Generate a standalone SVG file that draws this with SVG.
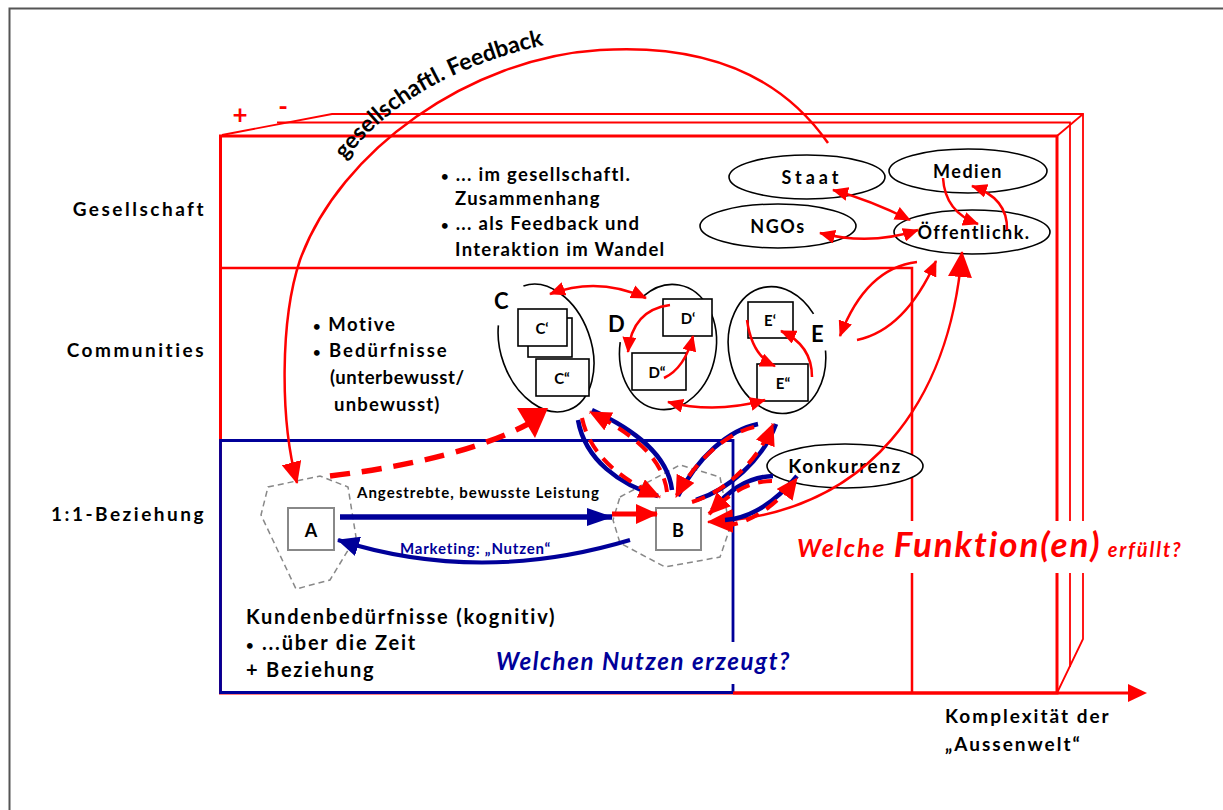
<svg xmlns="http://www.w3.org/2000/svg" width="1223" height="810" viewBox="0 0 1223 810">
  <style>
    text { font-family: Lato, "Open Sans", "Liberation Sans", sans-serif; font-weight: bold; fill: #000; }
    .row { font-size: 19px; text-anchor: end; letter-spacing: 2.5px; }
    .body { font-size: 18.5px; letter-spacing: 1.3px; }
    .bul { font-size: 13px; }
    .node { font-size: 18px; text-anchor: middle; letter-spacing: 1.5px; }
    .grp { font-size: 22px; }
    .sub { font-size: 15px; text-anchor: middle; }
    .ell { fill: #fff; stroke: #000; stroke-width: 1.6; }
    .ring { fill: none; stroke: #000; stroke-width: 1.6; }
    .box { fill: #fff; stroke: #000; stroke-width: 1.6; }
    .gbox { fill: #fff; stroke: #888; stroke-width: 2; }
    .poly { fill: none; stroke: #888; stroke-width: 1.5; stroke-dasharray: 6 4; }
    .thin { fill: none; stroke: #f00; stroke-width: 2.5; }
    .frame { fill: none; stroke: #f00; }
    .blue { fill: none; stroke: #000099; stroke-width: 4.5; }
    .rdash { fill: none; stroke: #f00; stroke-width: 4; stroke-dasharray: 14 9; }
  </style>
  <defs>
    <marker id="rh" markerUnits="userSpaceOnUse" viewBox="0 0 16 14" markerWidth="16" markerHeight="14" refX="15" refY="7" orient="auto-start-reverse">
      <path d="M0,0 L16,7 L0,14 z" fill="#f00"/>
    </marker>
    <marker id="rhm" markerUnits="userSpaceOnUse" viewBox="0 0 22 20" markerWidth="22" markerHeight="20" refX="21" refY="10" orient="auto-start-reverse">
      <path d="M0,0 L22,10 L0,20 z" fill="#f00"/>
    </marker>
    <marker id="rhb" markerUnits="userSpaceOnUse" viewBox="0 0 26 24" markerWidth="26" markerHeight="24" refX="25" refY="12" orient="auto-start-reverse">
      <path d="M0,0 L26,12 L0,24 z" fill="#f00"/>
    </marker>
    <marker id="bh" markerUnits="userSpaceOnUse" viewBox="0 0 26 18" markerWidth="26" markerHeight="18" refX="25" refY="9" orient="auto">
      <path d="M0,0 L26,9 L0,18 z" fill="#000099"/>
    </marker>
    <marker id="bhs" markerUnits="userSpaceOnUse" viewBox="0 0 22 20" markerWidth="22" markerHeight="20" refX="21" refY="10" orient="auto">
      <path d="M0,0 L22,10 L0,20 z" fill="#000099"/>
    </marker>
    <path id="fbText" d="M 345,160 Q 412,72 558,42"/>
  </defs>

  <rect width="1223" height="810" fill="#fff"/>
  <!-- page frame -->
  <path d="M 9.5,810 L 9.5,8.5 L 1223,8.5" fill="none" stroke="#555" stroke-width="2"/>

  <!-- nested layers: Gesellschaft / Communities / 1:1 -->
  <g id="layers">
    <path class="frame" stroke-width="1.8" d="M 222,135 L 332,114 L 1083,114 L 1083,639 L 1057,693"/>
    <path class="frame" stroke-width="1.8" d="M 277,122.5 L 1070,122.5 L 1070,667"/>
    <path class="frame" stroke-width="1.8" d="M 1057,136 L 1083,114"/>
    <rect class="frame" stroke-width="3" x="220.5" y="136" width="836.5" height="557"/>
    <path class="frame" stroke-width="2.5" d="M 220,268 L 912,268 L 912,693"/>
    <path fill="none" stroke="#000099" stroke-width="2.8" d="M 220.5,692.5 L 220.5,440.5 L 733,440.5 L 733,692.5 Z"/>
    <!-- axis -->
    <path d="M 733,693 L 1130,693" stroke="#f00" stroke-width="3" fill="none"/>
    <path d="M 1128,684 L 1147,693 L 1128,702 z" fill="#f00"/>
    <!-- cut-outs behind the two questions -->
    <rect x="790" y="521" width="400" height="52" fill="#fff"/>
    <rect x="490" y="642" width="322" height="42" fill="#fff"/>
  </g>

  <text x="240" y="124" style="font-size:26px;fill:#f00;text-anchor:middle">+</text>
  <text x="283" y="116" style="font-size:26px;fill:#f00;text-anchor:middle">-</text>

  <!-- row labels -->
  <text class="row" x="206" y="216">Gesellschaft</text>
  <text class="row" x="206" y="357">Communities</text>
  <text class="row" x="206" y="521">1:1-Beziehung</text>

  <!-- Gesellschaft texts -->
  <text class="body" x="441" y="181"><tspan class="bul">•</tspan> ... im gesellschaftl.</text>
  <text class="body" x="455" y="205">Zusammenhang</text>
  <text class="body" x="441" y="230"><tspan class="bul">•</tspan> ... als Feedback und</text>
  <text class="body" x="455" y="256">Interaktion im Wandel</text>

  <!-- Communities texts -->
  <text class="body" x="313" y="331" style="letter-spacing:1.6px"><tspan class="bul">•</tspan> Motive</text>
  <text class="body" x="313" y="357" style="letter-spacing:2px"><tspan class="bul">•</tspan> Bedürfnisse</text>
  <text class="body" x="330" y="384" style="letter-spacing:0.6px">(unterbewusst/</text>
  <text class="body" x="334" y="411" style="letter-spacing:1.2px">unbewusst)</text>

  <!-- 1:1 texts -->
  <text class="body" x="246" y="624" style="font-size:20px;letter-spacing:1.8px">Kundenbedürfnisse (kognitiv)</text>
  <text class="body" x="246" y="650" style="font-size:20px;letter-spacing:1.8px"><tspan class="bul">•</tspan> ...über die Zeit</text>
  <text class="body" x="246" y="677" style="font-size:20px;letter-spacing:1.8px">+ Beziehung</text>

  <text x="945" y="723" style="font-size:19px;letter-spacing:2px">Komplexität der</text>
  <text x="945" y="751" style="font-size:19px;letter-spacing:2px">„Aussenwelt“</text>

  <!-- questions -->
  <text x="496" y="670" style="font-size:24px;font-style:italic;fill:#000099;letter-spacing:1.6px">Welchen Nutzen erzeugt?</text>
  <text x="797" y="557" style="font-style:italic;fill:#f00;letter-spacing:1.9px"><tspan style="font-size:25px">Welche </tspan><tspan style="font-size:35px">Funktion(en)</tspan><tspan style="font-size:20px"> erfüllt?</tspan></text>

  <!-- society nodes -->
  <g id="staat"><ellipse class="ell" cx="807" cy="177" rx="78" ry="22"/><text class="node" x="812" y="184" style="letter-spacing:4px">Staat</text></g>
  <g id="medien"><ellipse class="ell" cx="968" cy="171" rx="79" ry="22"/><text class="node" x="968" y="178">Medien</text></g>
  <g id="ngos"><ellipse class="ell" cx="778" cy="226" rx="78" ry="22"/><text class="node" x="778" y="233">NGOs</text></g>
  <g id="oeffentlichkeit"><ellipse class="ell" cx="972" cy="232" rx="78" ry="22"/><text class="node" x="974" y="239">Öffentlichk.</text></g>
  <g id="konkurrenz"><ellipse class="ell" cx="845" cy="466" rx="78" ry="22"/><text class="node" x="845" y="473" style="font-size:19px">Konkurrenz</text></g>

  <!-- communities C, D, E -->
  <g id="community-c">
    <ellipse class="ring" cx="546" cy="348" rx="45" ry="66" transform="rotate(-20 546 348)" pathLength="100" stroke-dasharray="61 14 25"/>
    <text class="grp" x="494" y="309">C</text>
    <rect class="box" x="528" y="318" width="44" height="39"/>
    <rect class="box" x="518" y="309" width="49" height="37"/>
    <text class="sub" x="542" y="334">C‘</text>
    <rect class="box" x="536" y="359" width="53" height="37"/>
    <text class="sub" x="562" y="384">C“</text>
  </g>
  <g id="community-d">
    <ellipse class="ring" cx="668" cy="347" rx="48" ry="63" transform="rotate(10 668 347)" pathLength="100" stroke-dasharray="49 15 36"/>
    <text class="grp" x="608" y="332">D</text>
    <rect class="box" x="663" y="299" width="49" height="37"/>
    <text class="sub" x="688" y="324">D‘</text>
    <rect class="box" x="632" y="353" width="54" height="37"/>
    <text class="sub" x="657" y="378">D“</text>
  </g>
  <g id="community-e">
    <ellipse class="ring" cx="777" cy="350" rx="48" ry="64" transform="rotate(-12 777 350)" pathLength="100" stroke-dasharray="89 11" stroke-dashoffset="-3"/>
    <text class="grp" x="811" y="342">E</text>
    <rect class="box" x="748" y="302" width="45" height="36"/>
    <text class="sub" x="770" y="326">E‘</text>
    <rect class="box" x="757" y="364" width="51" height="37"/>
    <text class="sub" x="783" y="389">E“</text>
  </g>

  <!-- customer A and provider B -->
  <g id="node-a">
    <polygon class="poly" points="268,487 320,476 348,487 356,537 330,580 296,589 261,515"/>
    <rect class="gbox" x="288" y="508" width="46" height="42"/>
    <text x="311" y="537" style="font-size:18px;text-anchor:middle">A</text>
  </g>
  <g id="node-b">
    <polygon class="poly" points="620,497 680,465 720,477 730,528 720,557 665,567 620,543 613,520"/>
    <rect class="gbox" x="656" y="508" width="45" height="42"/>
    <text x="678" y="537" style="font-size:18px;text-anchor:middle">B</text>
  </g>

  <!-- connectors -->
  <g id="connectors">
    <!-- societal feedback loop -->
    <path class="thin" stroke-width="3.5" d="M 828,143 C 770,60 680,45 600,50 C 470,58 340,150 300,260 C 280,320 280,420 297,483" marker-end="url(#rhm)"/>
    <text style="font-size:23px"><textPath href="#fbText">gesellschaftl. Feedback</textPath></text>

    <!-- society interactions -->
    <path class="thin" d="M 833,190 Q 870,200 910,220" marker-start="url(#rh)" marker-end="url(#rh)"/>
    <path class="thin" d="M 820,233 Q 870,246 918,230" marker-start="url(#rh)" marker-end="url(#rh)"/>
    <path class="thin" d="M 943,178 Q 945,212 978,224" marker-end="url(#rh)"/>
    <path class="thin" d="M 1007,230 Q 1008,198 972,186" marker-end="url(#rh)"/>

    <!-- community E and public -->
    <path class="thin" d="M 917,262 Q 866,268 840,336" marker-end="url(#rh)"/>
    <path class="thin" d="M 857,340 Q 905,330 936,261" marker-end="url(#rh)"/>

    <!-- B and public, wide arc -->
    <path class="thin" stroke-width="3.5" d="M 708,522 C 870,515 950,400 962,252" marker-start="url(#rhb)" marker-end="url(#rhb)"/>

    <!-- inside communities -->
    <path class="thin" d="M 550,294 Q 598,276 646,298" marker-start="url(#rh)" marker-end="url(#rh)"/>
    <path class="thin" d="M 668,402 Q 715,414 765,400" marker-start="url(#rh)" marker-end="url(#rh)"/>
    <path class="thin" d="M 670,305 Q 632,310 628,352" marker-end="url(#rh)"/>
    <path class="thin" d="M 664,378 Q 685,368 693,336" marker-end="url(#rh)"/>
    <path class="thin" d="M 747,320 Q 752,356 775,366" marker-end="url(#rh)"/>
    <path class="thin" d="M 812,377 Q 812,345 781,331" marker-end="url(#rh)"/>

    <!-- A to community C -->
    <path fill="none" stroke="#f00" stroke-width="5.5" stroke-dasharray="20 12" d="M 330,476 Q 460,460 528,424"/>
    <path d="M 517,408 L 548,408 L 535,438 z" fill="#f00"/>

    <!-- A and B -->
    <path fill="none" stroke="#000099" stroke-width="5.5" d="M 340,517 L 612,517" marker-end="url(#bh)"/>
    <path fill="none" stroke="#f00" stroke-width="5" d="M 612,514 L 657,514" marker-end="url(#rhm)"/>
    <path fill="none" stroke="#000099" stroke-width="4" d="M 630,540 Q 480,585 338,540" marker-end="url(#bhs)"/>
    <text x="357" y="498" style="font-size:15px;letter-spacing:1px">Angestrebte, bewusste Leistung</text>
    <text x="400" y="554" style="font-size:15px;fill:#000099;letter-spacing:0.8px">Marketing: „Nutzen“</text>

    <!-- B with communities C, E and Konkurrenz -->
    <path class="blue" d="M 578,420 C 585,460 620,485 658,496"/>
    <path class="rdash" d="M 582,418 C 590,456 622,480 660,497" marker-end="url(#rhm)"/>
    <path class="blue" d="M 672,490 C 668,455 635,430 592,410"/>
    <path class="rdash" d="M 667,492 C 663,457 630,432 590,412" marker-end="url(#rhm)"/>
    <path class="blue" d="M 758,424 C 728,430 697,458 678,496"/>
    <path class="rdash" d="M 754,427 C 725,434 694,462 676,497" marker-end="url(#rhm)"/>
    <path class="blue" d="M 696,500 C 728,490 763,460 776,424"/>
    <path class="rdash" d="M 692,502 C 723,493 758,462 773,424" marker-end="url(#rhm)"/>
    <path class="blue" d="M 773,476 C 745,477 727,493 712,510"/>
    <path class="rdash" d="M 772,481 C 746,481 726,497 709,514" marker-end="url(#rhm)"/>
    <path class="blue" d="M 725,520 C 752,518 777,500 797,476"/>
    <path class="rdash" d="M 724,526 C 752,523 777,505 797,478" marker-end="url(#rhm)"/>
  </g>
</svg>
